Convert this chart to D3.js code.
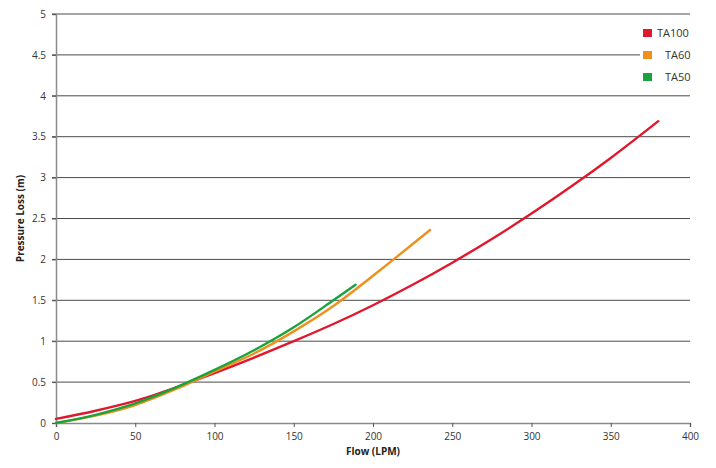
<!DOCTYPE html>
<html>
<head>
<meta charset="utf-8">
<script src="https://cdn.jsdelivr.net/npm/d3@7"></script>
<style>
  body { margin: 0; background: #fff; }
  .tick text { font-family: "Open Sans", sans-serif; font-size: 10px; fill: #333; }
  .titulo-eje { font-family: "Open Sans", sans-serif; font-size: 10px; font-weight: bold; fill: #222; }
  .leyenda text { font-family: "Open Sans", sans-serif; font-size: 11px; fill: #333; }
</style>
</head>
<body>
<div id="graf"></div>
<script>
// datos
const series = ["TA100", "TA60", "TA50"];
const colores = ["#e0182d", "#ef8f1c", "#19a33b"];

const flujoTA100 = [0, 25, 50, 75, 100, 125, 150, 175, 200, 225, 250, 275, 300, 325, 350, 380];
const perdidaTA100 = [0.05, 0.15, 0.27, 0.43, 0.61, 0.8, 1.0, 1.21, 1.44, 1.69, 1.96, 2.25, 2.56, 2.89, 3.24, 3.69];

const flujoTA60 = [0, 25, 50, 75, 100, 125, 150, 175, 200, 213, 236];
const perdidaTA60 = [0, 0.09, 0.22, 0.41, 0.63, 0.85, 1.12, 1.43, 1.8, 2.0, 2.36];

const flujoTA50 = [0, 25, 50, 75, 100, 125, 150, 175, 189];
const perdidaTA50 = [0, 0.1, 0.24, 0.43, 0.65, 0.89, 1.17, 1.5, 1.69];

const ticksX = [0, 50, 100, 150, 200, 250, 300, 350, 400];
const ticksY = [0, 0.5, 1, 1.5, 2, 2.5, 3, 3.5, 4, 4.5, 5];

const ancho_total = 716;
const alto_total = 468;
const margins = { top: 14, left: 56, right: 26, bottom: 45 };
const ancho = ancho_total - margins.left - margins.right;
const alto = alto_total - margins.top - margins.bottom;

const svg = d3.select("#graf")
  .append("svg")
  .attr("width", ancho_total)
  .attr("height", alto_total);

const g = svg.append("g")
  .attr("transform", `translate(${margins.left}, ${margins.top})`);

const x = d3.scaleLinear().domain([0, 400]).range([0, ancho]);
const y = d3.scaleLinear().domain([0, 5]).range([alto, 0]);

// rejilla
g.append("g")
  .selectAll("line")
  .data(ticksY.filter(d => d > 0))
  .join("line")
  .attr("x1", -4)
  .attr("x2", ancho)
  .attr("y1", d => y(d))
  .attr("y2", d => y(d))
  .attr("stroke", "#4a4a4a")
  .attr("stroke-width", 1);

// ejes
const xAxisGroup = g.append("g")
  .attr("transform", `translate(0, ${alto})`)
  .call(d3.axisBottom(x).tickValues(ticksX).tickSize(4).tickPadding(6));

const yAxisGroup = g.append("g")
  .call(d3.axisLeft(y).tickValues(ticksY).tickSize(4).tickPadding(6).tickFormat(d3.format("")));

[xAxisGroup, yAxisGroup].forEach(a => {
  a.select(".domain").attr("stroke", "#8a8a8a").attr("stroke-width", 1.5);
  a.selectAll(".tick line").attr("stroke", "#555");
});

g.append("text")
  .attr("class", "titulo-eje")
  .attr("x", x(200))
  .attr("y", alto + 32)
  .attr("text-anchor", "middle")
  .text("Flow (LPM)");

g.append("text")
  .attr("class", "titulo-eje")
  .attr("transform", `translate(-32, ${y(2.5)}) rotate(-90)`)
  .attr("text-anchor", "middle")
  .text("Pressure Loss (m)");

// curvas
const datos = [
  { name: "TA100", values: flujoTA100.map((f, i) => ({ f, p: perdidaTA100[i] })) },
  { name: "TA60", values: flujoTA60.map((f, i) => ({ f, p: perdidaTA60[i] })) },
  { name: "TA50", values: flujoTA50.map((f, i) => ({ f, p: perdidaTA50[i] })) },
];

const color = d3.scaleOrdinal().domain(series).range(colores);

const linea = d3.line()
  .x(d => x(d.f))
  .y(d => y(d.p))
  .curve(d3.curveMonotoneX);

g.selectAll(".serie")
  .data(datos)
  .join("path")
  .attr("class", "serie")
  .attr("fill", "none")
  .attr("stroke", d => color(d.name))
  .attr("stroke-width", 2.4)
  .attr("stroke-linecap", "round")
  .attr("d", d => linea(d.values));

// leyenda
const leyenda = svg.append("g").attr("class", "leyenda");

leyenda.append("rect")
  .attr("x", 640)
  .attr("y", 22)
  .attr("width", 60)
  .attr("height", 66)
  .attr("fill", "#fff");

const offsetsTexto = [14, 22, 22];
leyenda.selectAll(".item")
  .data(series)
  .join("g")
  .attr("class", "item")
  .attr("transform", (d, i) => `translate(643, ${29 + i * 22})`)
  .each(function (d, i) {
    const item = d3.select(this);
    item.append("rect")
      .attr("width", 9)
      .attr("height", 8)
      .attr("fill", color(d));
    item.append("text")
      .attr("x", offsetsTexto[i])
      .attr("y", 8)
      .text(d);
  });
</script>
</body>
</html>
